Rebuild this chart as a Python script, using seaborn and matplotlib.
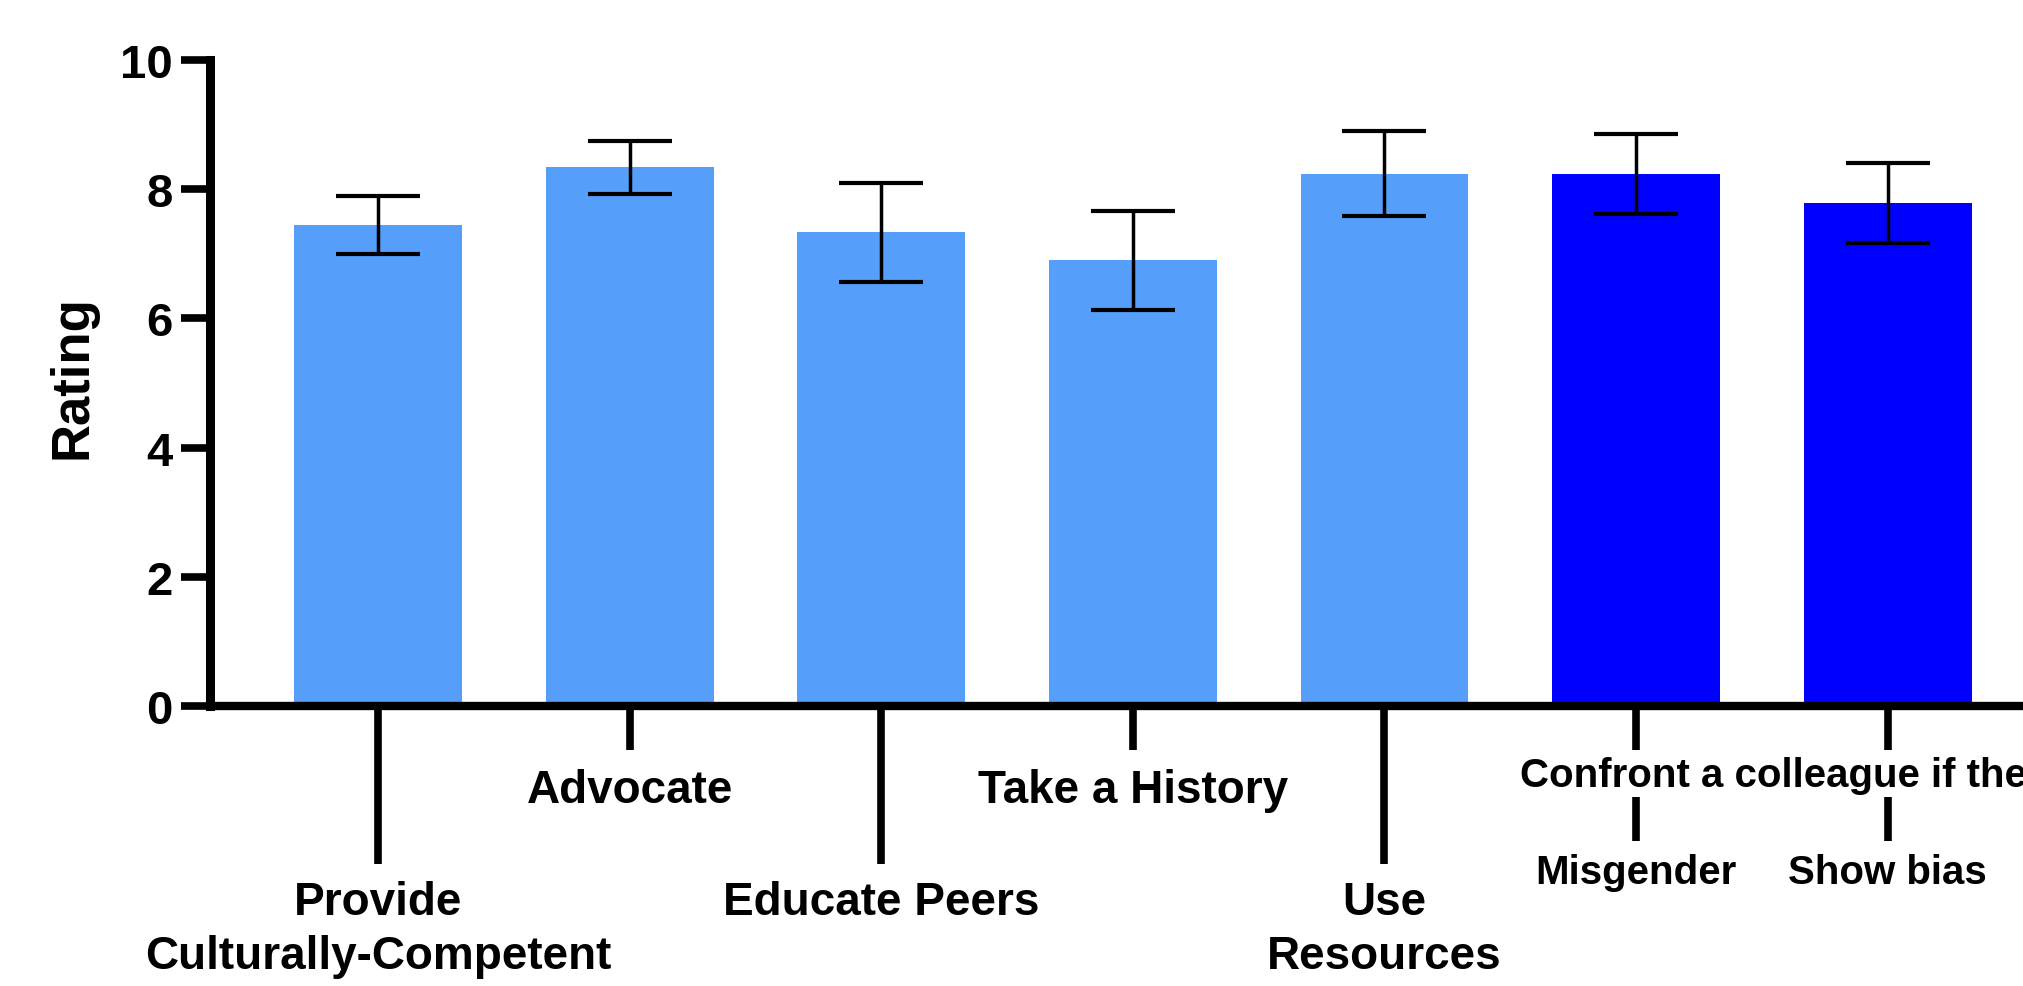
import matplotlib
matplotlib.use("Agg")
import matplotlib.pyplot as plt
import seaborn as sns
import pandas as pd

# values
categories = [
    "Provide\nCulturally-Competent",
    "Advocate",
    "Educate Peers",
    "Take a History",
    "Use\nResources",
    "Misgender",
    "Show bias",
]
mean_rating = [7.45, 8.34, 7.33, 6.90, 8.24, 8.24, 7.79]
err_rating = [0.45, 0.41, 0.77, 0.77, 0.66, 0.62, 0.62]
group_label = "Confront a colleague if they"
group_members = [5, 6]

palette = ["#559FFB"] * 5 + ["#0000FF"] * 2

sns.set_theme(style="ticks")
plt.rcParams["font.family"] = ["Liberation Sans", "DejaVu Sans"]
plt.rcParams["font.weight"] = "bold"
plt.rcParams["text.color"] = "black"
plt.rcParams["axes.labelcolor"] = "black"
plt.rcParams["axes.edgecolor"] = "black"

df = pd.DataFrame({"Item": categories, "Rating": mean_rating})

fig = plt.figure(figsize=(20.23, 9.87), dpi=100)
ax = fig.add_axes([210 / 2023, 280 / 987, 1 - 210 / 2023, 646 / 987])

sns.barplot(data=df, x="Item", y="Rating", hue="Item", palette=palette, legend=False,
            width=0.667, saturation=1, linewidth=0, errorbar=None, ax=ax)
ax.errorbar(range(len(categories)), mean_rating, yerr=err_rating, fmt="none",
            ecolor="black", elinewidth=2.5, capsize=30, capthick=3, zorder=3)

ax.set_xlim(-0.668, 6.538)
ax.set_ylim(0, 10)
ax.set_yticks([0, 2, 4, 6, 8, 10])
ax.set_xlabel("")
ax.set_ylabel("Rating", fontsize=38, fontweight="bold")
ax.yaxis.set_label_coords(-0.062, 0.51)

sns.despine(ax=ax)
ax.spines["left"].set_linewidth(6.5)
ax.spines["bottom"].set_linewidth(6)
ax.spines["left"].set_bounds(0, 10)

ax.tick_params(axis="y", length=21, width=5.5, pad=6, labelsize=34, colors="black")
ax.tick_params(axis="x", length=32, width=5.5, labelsize=33, colors="black")

# Prism-style staggered category ticks
tick_len = [114, 32, 114, 32, 114, 32, 32]
tick_pad = [93, 13, 93, 13, 93, 74, 74]
tick_fs = [33, 33, 33, 33, 33, 29, 29]
for t, ln, pd_, fs in zip(ax.xaxis.get_major_ticks(), tick_len, tick_pad, tick_fs):
    t.set_pad(pd_)
    t.tick1line.set_markersize(ln)
    t.label1.set_linespacing(1.3)
    t.label1.set_fontsize(fs)
    t.label1.set_fontweight("bold")
for lab in ax.get_yticklabels():
    lab.set_fontweight("bold")

# grouping label for the last two items
xt = ax.get_xaxis_transform()
ax.vlines(group_members, -0.209, -0.141, transform=xt, colors="black",
          linewidth=5.5, clip_on=False)
ax.text(4.54, -0.124, group_label, transform=xt, ha="left", va="baseline",
        fontsize=29, fontweight="bold", clip_on=False)

fig.savefig("out.png", dpi=100)
